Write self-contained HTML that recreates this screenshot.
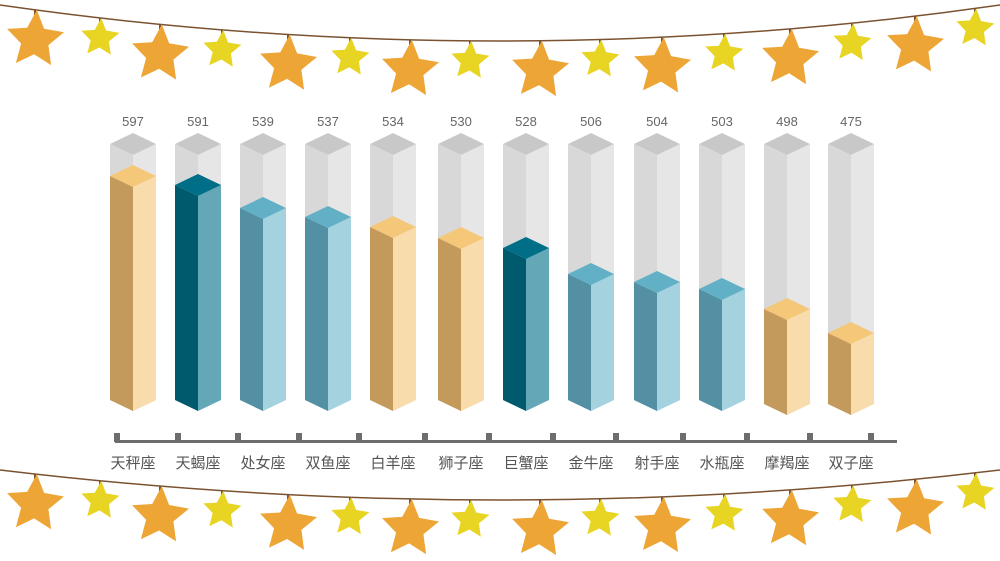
<!DOCTYPE html><html><head><meta charset="utf-8"><style>body{margin:0;background:#fff}svg{display:block}</style></head><body>
<svg id="s" width="1000" height="561" xmlns="http://www.w3.org/2000/svg" font-family="Liberation Sans, Noto Sans CJK SC, sans-serif"></svg>
<script>
const s=document.getElementById('s');let h='';
const C={o:['#c49a5c','#f8dcac','#f5c778'],d:['#005a6e','#64a8b8','#006e86'],l:['#5390a3','#a4d2df','#62b0c6']};
const bars=[[133,597,165,'o','天秤座',400],[198,591,174,'d','天蝎座',400],[263,539,197,'l','处女座',400],[328,537,206,'l','双鱼座',400],[393,534,216,'o','白羊座',400],[461,530,227,'o','狮子座',400],[526,528,237,'d','巨蟹座',400],[591,506,263,'l','金牛座',400],[657,504,271,'l','射手座',400],[722,503,278,'l','水瓶座',400],[787,498,298,'o','摩羯座',404],[851,475,322,'o','双子座',404]];
function prism(cx,t,b,c){const w=23,d=11;
return `<polygon points="${cx-w},${t+d} ${cx},${t+2*d} ${cx},${b+d} ${cx-w},${b}" fill="${c[0]}"/><polygon points="${cx},${t+2*d} ${cx+w},${t+d} ${cx+w},${b} ${cx},${b+d}" fill="${c[1]}"/><polygon points="${cx-w},${t+d} ${cx},${t} ${cx+w},${t+d} ${cx},${t+2*d}" fill="${c[2]}"/>`;}
bars.forEach(b=>{h+=prism(b[0],133,b[5],['#d8d8d8','#e6e6e6','#c8c8c8']);h+=prism(b[0],b[2],b[5],C[b[3]]);
h+=`<text x="${b[0]}" y="126" font-size="13" fill="#666" text-anchor="middle">${b[1]}</text>`;
h+=`<text x="${b[0]}" y="468" font-size="15" fill="#555" text-anchor="middle">${b[4]}</text>`;});
h+=`<rect x="115" y="440" width="782" height="3" fill="#6d6d6d"/>`;
[117,178,238,299,359,425,489,553,616,683,747,810,871].forEach(x=>h+=`<rect x="${x-3}" y="433" width="6" height="9" fill="#6d6d6d"/>`);
function star(cx,cy,r,col){let p=[];for(let i=0;i<10;i++){const a=-Math.PI/2+i*Math.PI/5+0.06,rr=i%2?r*0.48:r;p.push((cx+rr*Math.cos(a)).toFixed(1)+','+(cy+rr*Math.sin(a)).toFixed(1));}return `<polygon points="${p.join(' ')}" fill="${col}"/>`;}
function garland(y0,dip){h+=`<path d="M0,${y0} Q500,${y0+2*dip} 1000,${y0}" stroke="#7a5230" stroke-width="1.5" fill="none"/>`;
const xs=[35,100,160,222,288,350,410,470,540,600,662,724,790,852,915,975];
xs.forEach((x,i)=>{const t=x/1000,sy=y0+2*dip*2*t*(1-t);const big=i%2==0;const r=big?30:20;const cy=sy+(big?30:20);
h+=`<line x1="${x}" y1="${sy}" x2="${x}" y2="${sy+10}" stroke="#7a5230" stroke-width="2"/>`;h+=star(x,cy,r,big?'#eda535':'#e8d423');});}
garland(5,36);garland(470,30);
s.innerHTML=h;
</script></body></html>
